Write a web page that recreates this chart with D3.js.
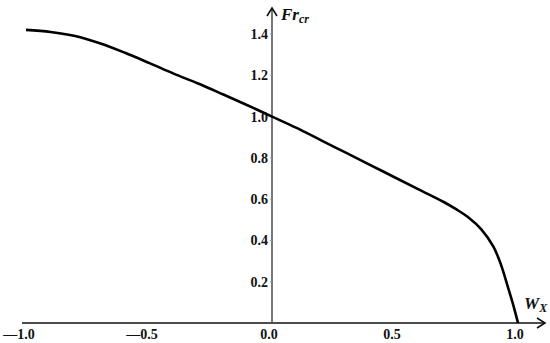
<!DOCTYPE html>
<meta charset="utf-8">
<style>
body { margin: 0; background: #fff; }
.tick-label { font: bold 14px "Liberation Serif", serif; fill: #111; }
.axis-title { font: italic bold 17px "Liberation Serif", serif; fill: #111; }
</style>
<svg width="550" height="343"></svg>
<script src="https://cdn.jsdelivr.net/npm/d3@7"></script>
<script>
// curve
var wx = [-1.0, -0.9, -0.8, -0.7, -0.6, -0.5, -0.4, -0.3, -0.2, -0.1, 0.0,
          0.1, 0.2, 0.3, 0.4, 0.5, 0.6, 0.7, 0.75, 0.8, 0.85, 0.9, 0.93, 0.96, 0.98, 1.0];
var fr = [1.42, 1.41, 1.39, 1.355, 1.31, 1.26, 1.208, 1.16, 1.108, 1.055, 1.0,
          0.945, 0.885, 0.825, 0.765, 0.705, 0.645, 0.585, 0.55, 0.51, 0.455, 0.37, 0.285, 0.17, 0.09, 0.0];
var xTicks = [-1.0, -0.5, 0.0, 0.5, 1.0];
var yTicks = [0.2, 0.4, 0.6, 0.8, 1.0, 1.2, 1.4];

var svg = d3.select("svg");
var x = d3.scaleLinear().domain([-1, 1]).range([26, 518]);
var y = d3.scaleLinear().domain([0, 1.4]).range([323, 34]);
var fmt = d3.format(".1f");

// x axis with arrow
svg.append("line")
    .attr("x1", 22).attr("x2", 545)
    .attr("y1", y(0)).attr("y2", y(0))
    .attr("stroke", "#111").attr("stroke-width", 1.6);
svg.append("path")
    .attr("d", "M537," + (y(0) - 5) + "L545," + y(0) + "L537," + (y(0) + 5))
    .attr("fill", "none").attr("stroke", "#111").attr("stroke-width", 1.6);

// y axis with arrow
svg.append("line")
    .attr("x1", x(0)).attr("x2", x(0))
    .attr("y1", y(0)).attr("y2", 8)
    .attr("stroke", "#555").attr("stroke-width", 1.6);
svg.append("path")
    .attr("d", "M" + (x(0) - 5) + ",16L" + x(0) + ",8L" + (x(0) + 5) + ",16")
    .attr("fill", "none").attr("stroke", "#111").attr("stroke-width", 1.6);

// tick labels
svg.selectAll(".xl").data(xTicks).enter().append("text")
    .attr("class", "tick-label")
    .attr("x", function(d) { return x(d) - (d < 0 ? 7 : 3); })
    .attr("y", y(0) + 16)
    .attr("text-anchor", "middle")
    .text(function(d) { return d < 0 ? "\u2014" + fmt(-d) : fmt(d); });

svg.selectAll(".yl").data(yTicks).enter().append("text")
    .attr("class", "tick-label")
    .attr("x", x(0) - 4)
    .attr("y", function(d) { return y(d) + 5; })
    .attr("text-anchor", "end")
    .text(fmt);

svg.selectAll(".yt").data(yTicks).enter().append("line")
    .attr("x1", x(0) - 2).attr("x2", x(0))
    .attr("y1", function(d) { return y(d); })
    .attr("y2", function(d) { return y(d); })
    .attr("stroke", "#999");

// axis titles
var ft = svg.append("text").attr("class", "axis-title").attr("x", 281).attr("y", 20);
ft.append("tspan").text("Fr");
ft.append("tspan").attr("dy", 3).style("font-size", "12px").text("cr");

var wt = svg.append("text").attr("class", "axis-title").attr("x", 524).attr("y", 309);
wt.append("tspan").text("W");
wt.append("tspan").attr("dy", 3).style("font-size", "12px").text("X");

// curve
var line = d3.line()
    .x(function(d, i) { return x(wx[i]); })
    .y(function(d) { return y(d); })
    .curve(d3.curveCatmullRom.alpha(0.5));
svg.append("path")
    .attr("d", line(fr))
    .attr("fill", "none")
    .attr("stroke", "#000")
    .attr("stroke-width", 2.6);
</script>
